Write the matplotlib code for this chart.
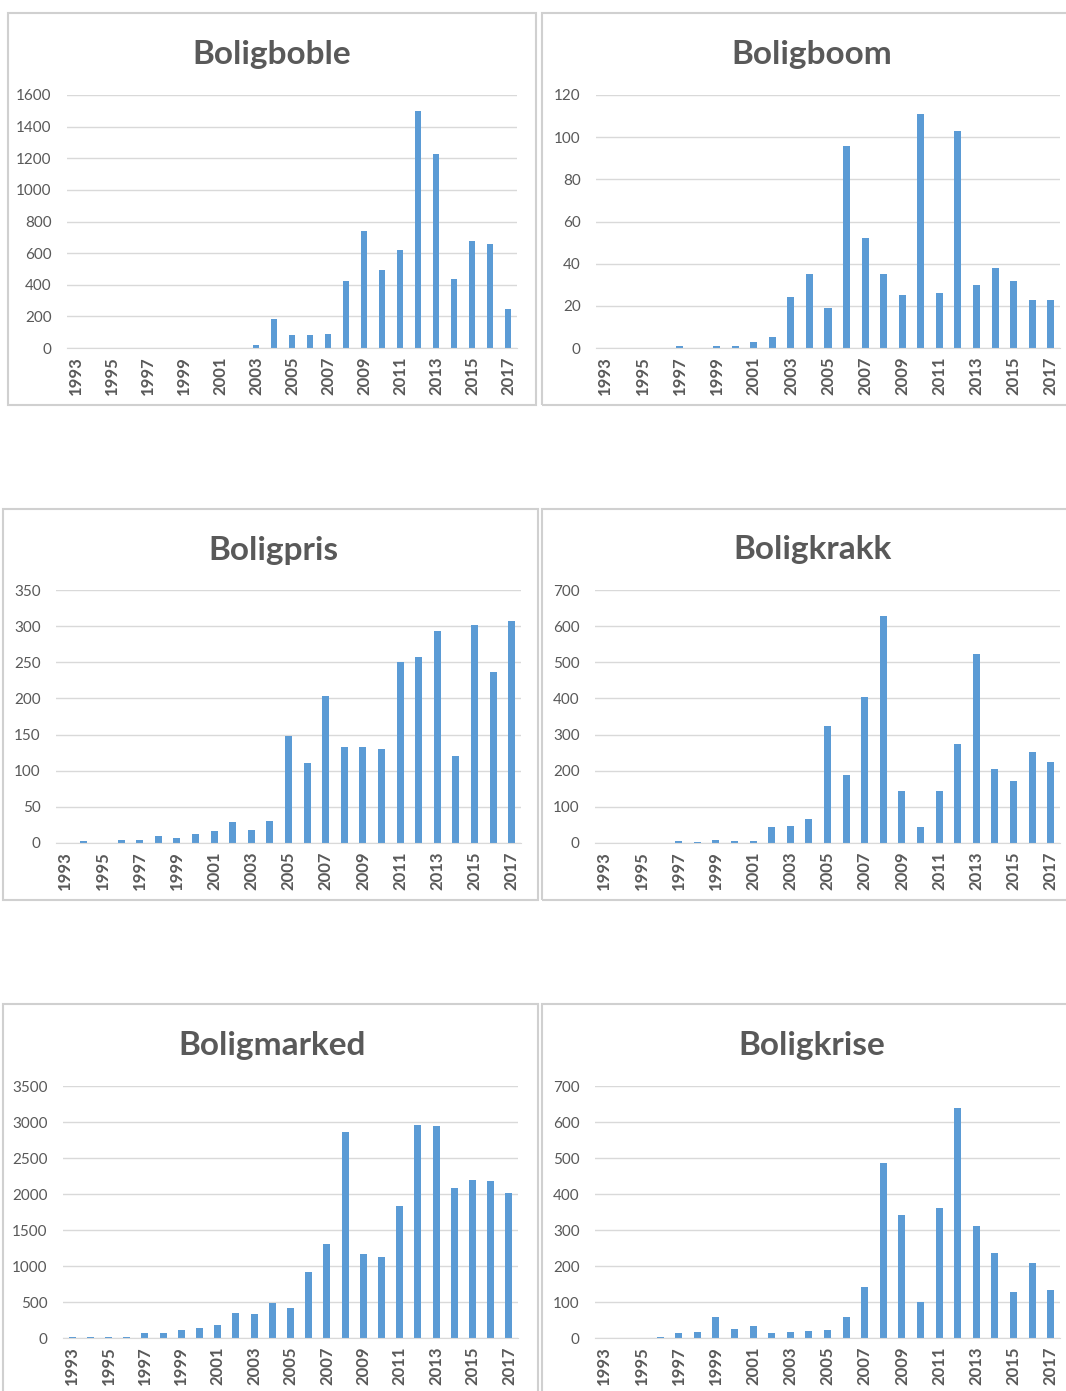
#!/usr/bin/env python3
# Seks søylediagram: antall treff per år for bolig-ord, 1993-2017
import matplotlib
matplotlib.use("Agg")
import matplotlib.pyplot as plt
from matplotlib.patches import Rectangle

plt.rcParams["font.family"] = ["Lato", "DejaVu Sans"]

# ----------------------------
# Data
years = list(range(1993, 2018))

boligboble = [0, 0, 0, 0, 0, 0, 0, 0, 0, 0, 20, 185, 85, 85, 90,
              425, 740, 495, 620, 1500, 1230, 435, 675, 660, 245]
boligboom = [0, 0, 0, 0, 1, 0, 1, 1, 3, 5, 24, 35, 19, 96, 52,
             35, 25, 111, 26, 103, 30, 38, 32, 23, 23]
boligpris = [0, 3, 0, 4, 4, 10, 7, 12, 16, 29, 18, 30, 148, 111, 204,
             133, 133, 130, 251, 258, 293, 120, 301, 236, 307]
boligkrakk = [0, 0, 0, 0, 5, 3, 7, 5, 5, 43, 48, 67, 323, 187, 404,
              627, 143, 45, 145, 275, 522, 204, 172, 253, 223]
boligmarked = [10, 12, 12, 20, 70, 70, 110, 135, 175, 345, 330, 480, 420, 920, 1300,
               2860, 1165, 1130, 1840, 2960, 2950, 2080, 2200, 2180, 2020]
boligkrise = [0, 0, 0, 3, 14, 16, 58, 26, 33, 13, 16, 19, 21, 59, 143,
              485, 341, 99, 361, 638, 311, 236, 128, 208, 133]

titles = ["Boligboble", "Boligboom", "Boligpris", "Boligkrakk", "Boligmarked", "Boligkrise"]
series = [boligboble, boligboom, boligpris, boligkrakk, boligmarked, boligkrise]
ymax = [1600, 120, 350, 700, 3500, 700]
ystep = [200, 20, 50, 100, 500, 100]
# ----------------------------

W, H = 1066, 1391
BAR = "#5B9BD5"
GREY = "#595959"
GRID = "#D9D9D9"

fig = plt.figure(figsize=(W / 100, H / 100), dpi=100)

# panel layout in pixels: box (x0, y0, x1, y1), plot area (x0, x1, y_top, y_zero), title centre (x, y)
panels = [
    ((8, 13, 536, 405), (67, 517, 95, 348), (272, 52)),
    ((542, 13, 1075, 405), (596, 1060, 95, 348), (812, 52)),
    ((3, 509, 538, 900), (56, 521, 590, 843), (273, 548)),
    ((542, 509, 1075, 900), (595, 1060, 590, 843), (812, 547)),
    ((3, 1004, 538, 1400), (63, 518, 1086, 1338), (272, 1043)),
    ((542, 1004, 1075, 1400), (595, 1060, 1086, 1338), (812, 1043)),
]


def fx(px):
    return px / W


def fy(py):
    return 1 - py / H


for (box, area, tpos), title, vals, top, step in zip(panels, titles, series, ymax, ystep):
    bx0, by0, bx1, by1 = box
    fig.patches.append(Rectangle((fx(bx0), fy(by1)), fx(bx1 - bx0), (by1 - by0) / H,
                                 transform=fig.transFigure, fill=False,
                                 edgecolor="#D0D0D0", linewidth=1.5))
    fig.text(fx(tpos[0]), fy(tpos[1]), title, ha="center", va="center_baseline",
             fontsize=24, fontweight="bold", color=GREY)

    ax0, ax1, ay_top, ay_zero = area
    ax = fig.add_axes([fx(ax0), fy(ay_zero), fx(ax1 - ax0), (ay_zero - ay_top) / H])
    x = list(range(len(years)))
    ax.bar(x, vals, width=0.38, color=BAR, zorder=3)
    ax.set_xlim(-0.5, len(years) - 0.5)
    ax.set_ylim(0, top)
    ax.set_yticks(range(0, top + 1, step))
    ax.set_xticks(x[::2])
    ax.set_xticklabels([str(y) for y in years[::2]], rotation=90,
                       fontsize=12, color=GREY, fontweight="bold")
    ax.tick_params(axis="y", labelsize=11, labelcolor=GREY, length=0, pad=11)
    ax.tick_params(axis="x", length=0, pad=6)
    ax.grid(axis="y", color=GRID, linewidth=1, zorder=0)
    for s in ["top", "right", "left"]:
        ax.spines[s].set_visible(False)
    ax.spines["bottom"].set_color(GRID)
    ax.spines["bottom"].set_zorder(4)
    ax.set_facecolor("none")

fig.savefig("out.png", dpi=100)
